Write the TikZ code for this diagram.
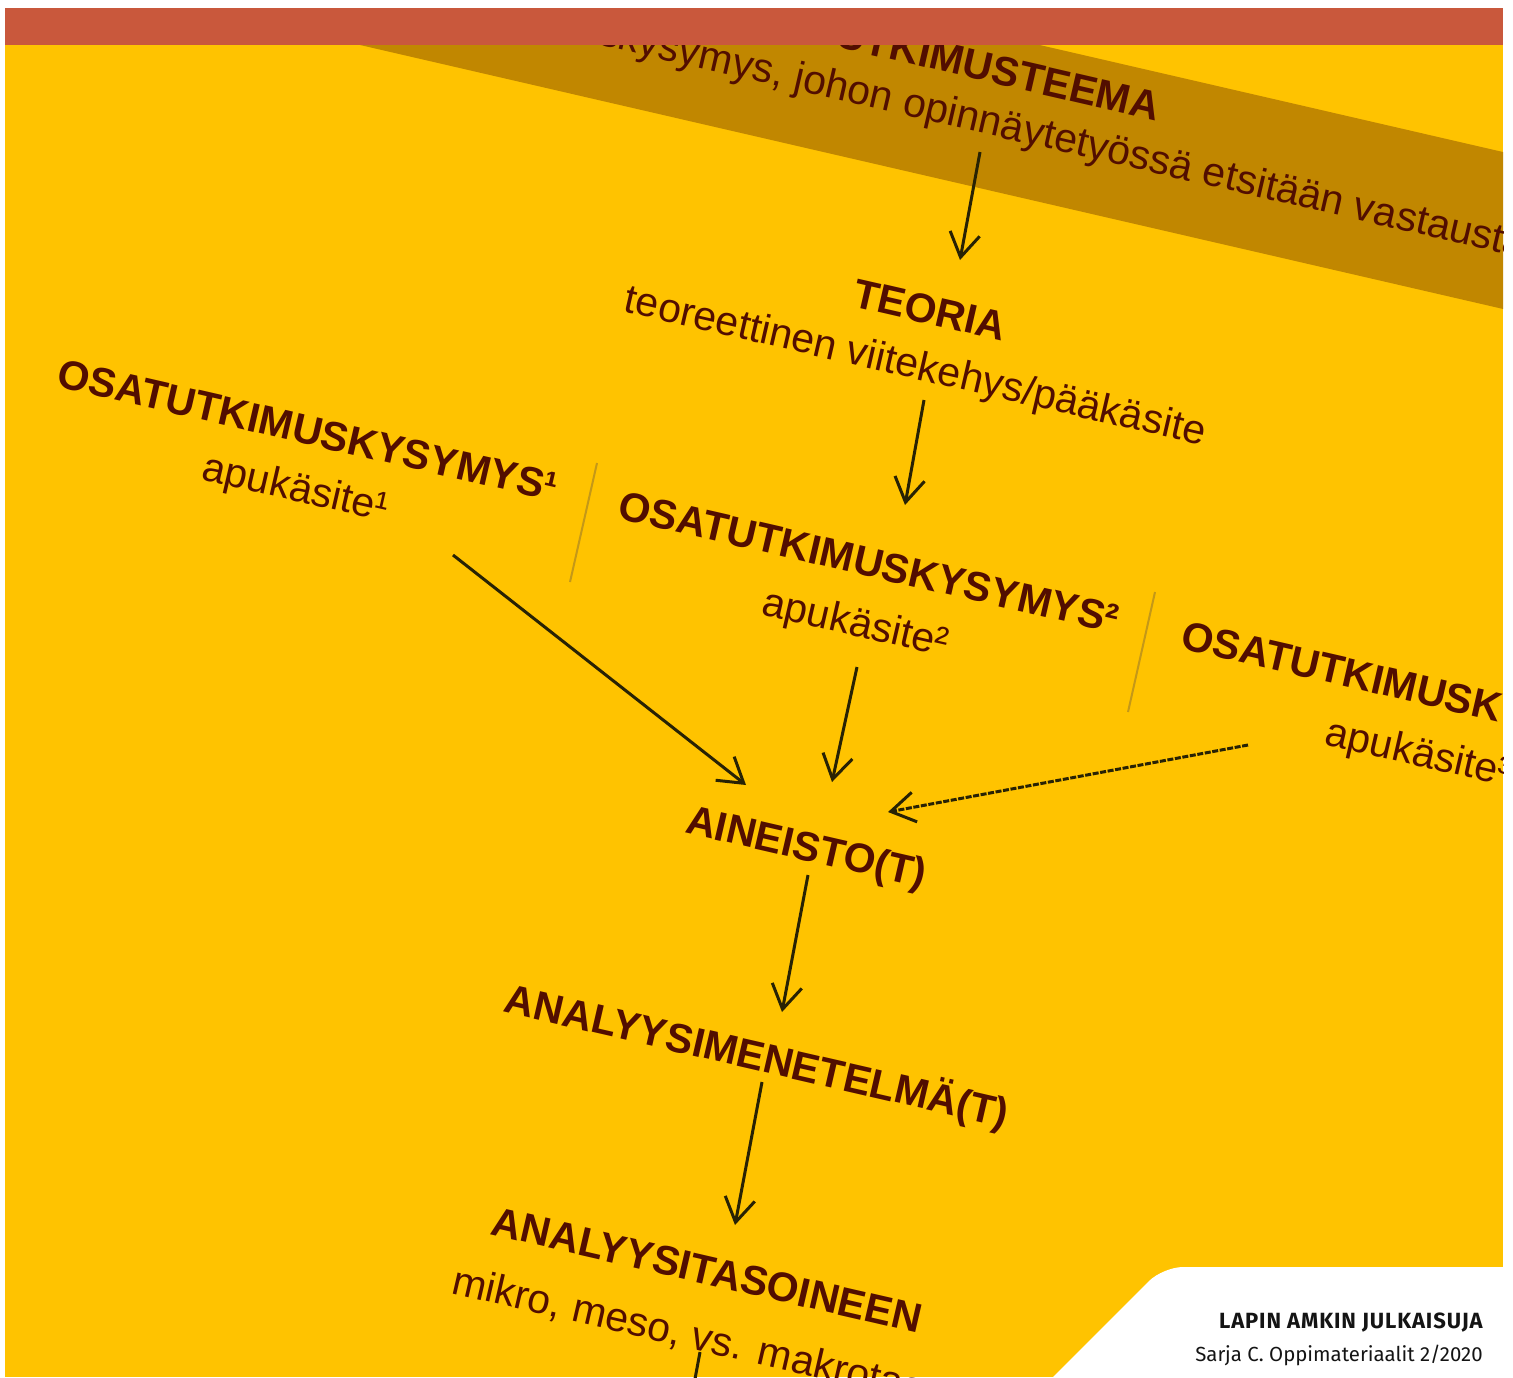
\documentclass[tikz,border=0pt]{standalone}
\usepackage{fontspec}
\setmainfont{Liberation Sans}
\newfontfamily\footfont{Fira Sans}
\newfontfamily\footboldfont[LetterSpace=4]{Fira Sans Bold}
\usetikzlibrary{arrows.meta,calc}
\definecolor{bgyellow}{RGB}{255,195,0}
\definecolor{bandbrown}{RGB}{193,135,0}
\definecolor{topred}{RGB}{201,88,60}
\definecolor{txtbrown}{RGB}{82,14,0}
\definecolor{arrowdark}{RGB}{40,34,4}
\definecolor{seprule}{RGB}{196,152,24}
\definecolor{foottext}{RGB}{20,20,20}
\begin{document}
\begin{tikzpicture}[x=0.5pt,y=-0.5pt,
  titletext/.style={rotate=-13,inner sep=0pt,text=txtbrown,font=\fontsize{20.5}{24}\selectfont\bfseries},
  subtext/.style={rotate=-13,inner sep=0pt,text=txtbrown,font=\fontsize{20.5}{24}\selectfont},
  arr/.style={draw=arrowdark,line width=1.5pt,-{Straight Barb[length=12pt,width=15pt]}},
  sepline/.style={draw=seprule,line width=1pt},
  footbold/.style={inner sep=0pt,anchor=base east,text=foottext,font=\footboldfont\fontsize{11}{13}\selectfont},
  footreg/.style={inner sep=0pt,anchor=base east,text=foottext,font=\footfont\fontsize{10.2}{12}\selectfont}
]
\useasboundingbox (0,0) rectangle (1513,1377);
\fill[white] (0,0) rectangle (1513,1377);
\begin{scope}
\clip (5,8) rectangle (1503,1377);
\fill[bgyellow] (5,8) rectangle (1503,1377);
% dark band
\fill[bandbrown] (-127,-67.5) -- (1724,360) -- (1758.4,211) -- (-92.6,-216.5) -- cycle;
% texts
\node[titletext] (bandtitle) at (986,67) {TUTKIMUSTEEMA};
\node[subtext] (bandsub) at (998,126) {tutkimuskysymys, johon opinnäytetyössä etsitään vastausta};
\node[titletext] (teoria) at (930,310) {TEORIA};
\node[subtext] (teoriasub) at (915,368) {teoreettinen viitekehys/pääkäsite};
\node[titletext] (osa1) at (308,430) {OSATUTKIMUSKYSYMYS¹};
\node[subtext] (apu1) at (295,490) {apukäsite¹};
\node[titletext] (osa2) at (869,562) {OSATUTKIMUSKYSYMYS²};
\node[subtext] (apu2) at (855,625) {apukäsite²};
\node[titletext] (osa3) at (1432,692) {OSATUTKIMUSKYSYMYS³};
\node[subtext] (apu3) at (1418,755) {apukäsite³};
\node[titletext] (aineisto) at (806,850) {AINEISTO(T)};
\node[titletext] (menetelma) at (757,1057) {ANALYYSIMENETELMÄ(T)};
\node[titletext] (tasot) at (707,1270) {ANALYYSITASOINEEN};
\node[subtext] (tasotsub) at (699,1338) {mikro, meso, vs. makrotaso};
\coordinate (offpage) at (692,1395);
% separators
\draw[sepline] (597,463) -- (570,582);
\draw[sepline] (1155,592) -- (1128,712);
% arrows
\draw[arr] ([shift={(-18,26)}]bandsub.center) -- ([shift={(30,-50)}]teoria.center);
\draw[arr] ([shift={(9,32)}]teoriasub.center) -- ([shift={(36,-57)}]osa2.center);
\draw[arr] ([shift={(158,65)}]apu1.center) -- ([shift={(-60,-65)}]aineisto.center);
\draw[arr] ([shift={(2,42)}]apu2.center) -- ([shift={(26,-68)}]aineisto.center);
\draw[arr,dash pattern=on 3pt off 0.8pt] ([shift={(-170,-10)}]apu3.center) -- ([shift={(82,-38)}]aineisto.center);
\draw[arr] ([shift={(2,25)}]aineisto.center) -- ([shift={(25,-45)}]menetelma.center);
\draw[arr] ([shift={(5,25)}]menetelma.center) -- ([shift={(28,-45)}]tasot.center);
\draw[draw=arrowdark,line width=1.5pt] ([shift={(1,14)}]tasotsub.center) -- (offpage);
% top red bar
\fill[topred] (5,8) rectangle (1503,45);
% white corner
\fill[white] (1043,1387) [rounded corners=10pt] -- (1163,1267) [sharp corners] -- (1530,1267) -- (1530,1400) -- (1043,1400) -- cycle;
\end{scope}
\node[footbold] (series) at (1483,1328) {LAPIN AMKIN JULKAISUJA};
\node[footreg] (issue) at (1483,1361) {Sarja C. Oppimateriaalit 2/2020};
\end{tikzpicture}
\end{document}
